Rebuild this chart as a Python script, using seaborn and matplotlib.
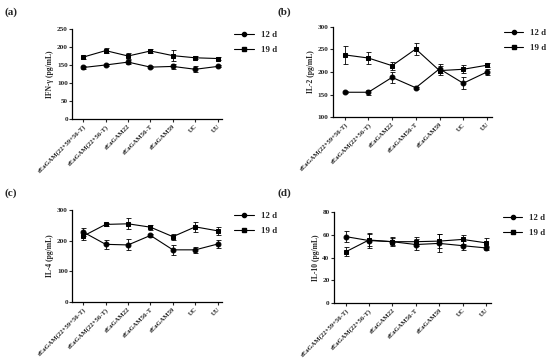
import numpy as np
import pandas as pd
import matplotlib
matplotlib.use('Agg')
import matplotlib.pyplot as plt
import seaborn as sns

groups = ['rEaGAM(22+59+56-T)', 'rEaGAM(22+56-T)', 'rEaGAM22', 'rEaGAM56-T', 'rEaGAM59', 'UC', 'UU']
days = ['12 d', '19 d']

# IFN-gamma
ifn_12 = [143, 150, 158, 144, 146, 138, 146]
ifn_12_err = [3, 3, 6, 3, 8, 8, 3]
ifn_19 = [172, 190, 175, 189, 176, 170, 168]
ifn_19_err = [4, 6, 8, 5, 16, 4, 5]

# IL-2
il2_12 = [155, 155, 188, 165, 207, 175, 200]
il2_12_err = [2, 5, 12, 2, 10, 13, 6]
il2_19 = [238, 231, 214, 251, 203, 206, 215]
il2_19_err = [20, 13, 9, 14, 10, 9, 4]

# IL-4
il4_12 = [228, 188, 186, 217, 170, 170, 189]
il4_12_err = [14, 14, 18, 5, 17, 10, 14]
il4_19 = [215, 253, 255, 244, 213, 245, 232]
il4_19_err = [12, 6, 18, 8, 10, 17, 12]

# IL-10
il10_12 = [58.5, 55, 54, 51.5, 52.5, 50.5, 48.5]
il10_12_err = [5, 7, 4, 5, 8, 4, 2]
il10_19 = [45, 55.5, 54, 54, 54.5, 56, 53]
il10_19_err = [4, 5, 3, 4, 6, 4, 4]

panels = [
    ('(a)', 'IFN-γ (pg/mL)', ifn_12, ifn_12_err, ifn_19, ifn_19_err, (0, 250), [0, 50, 100, 150, 200, 250]),
    ('(b)', 'IL-2 (pg/mL)', il2_12, il2_12_err, il2_19, il2_19_err, (100, 300), [100, 150, 200, 250, 300]),
    ('(c)', 'IL-4 (pg/mL)', il4_12, il4_12_err, il4_19, il4_19_err, (0, 300), [0, 100, 200, 300]),
    ('(d)', 'IL-10 (pg/mL)', il10_12, il10_12_err, il10_19, il10_19_err, (0, 80), [0, 20, 40, 60, 80]),
]

sns.set_style('ticks')
plt.rcParams['font.family'] = ['Liberation Serif', 'DejaVu Serif']
plt.rcParams['font.weight'] = 'bold'

fig = plt.figure(figsize=(5.5, 3.59), dpi=100)
rects = [
    [0.131, 0.669, 0.273, 0.250],
    [0.605, 0.674, 0.289, 0.251],
    [0.131, 0.159, 0.273, 0.256],
    [0.607, 0.156, 0.285, 0.253],
]
label_pos = [(0.008, 0.98), (0.505, 0.98), (0.008, 0.475), (0.505, 0.475)]

for (tag, ylab, v12, e12, v19, e19, ylim, yticks), rect, lp in zip(panels, rects, label_pos):
    ax = fig.add_axes(rect)
    x = np.arange(len(groups))
    df = pd.DataFrame({
        'x': np.concatenate([x, x]),
        'val': v12 + v19,
        'err': e12 + e19,
        'day': [days[0]] * len(groups) + [days[1]] * len(groups),
    })
    sns.lineplot(data=df, x='x', y='val', style='day', markers={'12 d': 'o', '19 d': 's'},
                 dashes=False, color='black', linewidth=0.8, markersize=3.5,
                 markeredgecolor='black', ax=ax, legend=False)
    for d in days:
        sub = df[df['day'] == d]
        ax.errorbar(sub['x'], sub['val'], yerr=sub['err'], fmt='none',
                    ecolor='black', elinewidth=0.6, capsize=1.8, capthick=0.6)
    ax.set_xlim(-0.5, 6.2)
    ax.set_ylim(*ylim)
    ax.set_yticks(yticks)
    ax.set_xticks(x)
    ax.set_xticklabels(groups, rotation=45, ha='right', rotation_mode='anchor',
                       fontsize=4.8, fontweight='bold')
    ax.tick_params(axis='y', labelsize=5.2, width=0.8, length=2, pad=1)
    ax.tick_params(axis='x', width=0.8, length=2, pad=1.5)
    for t in ax.get_yticklabels():
        t.set_fontweight('bold')
    ax.set_xlabel('')
    ax.set_ylabel(ylab, fontsize=5.5, fontweight='bold', labelpad=2)
    sns.despine(ax=ax)
    for s in ['left', 'bottom']:
        ax.spines[s].set_linewidth(0.9)
        ax.spines[s].set_color('black')

    handles = [
        plt.Line2D([], [], color='black', marker='o', markersize=3, linewidth=0.8),
        plt.Line2D([], [], color='black', marker='s', markersize=3, linewidth=0.8),
    ]
    ax.legend(handles, days, loc='upper left', bbox_to_anchor=(1.04, 1.05), frameon=False,
              prop={'size': 6.3, 'weight': 'bold'}, handlelength=2.2, labelspacing=0.8,
              borderaxespad=0.3)

    fig.text(lp[0], lp[1], tag, fontsize=8, fontweight='bold', va='top', ha='left')

fig.savefig('out.png', dpi=100)
